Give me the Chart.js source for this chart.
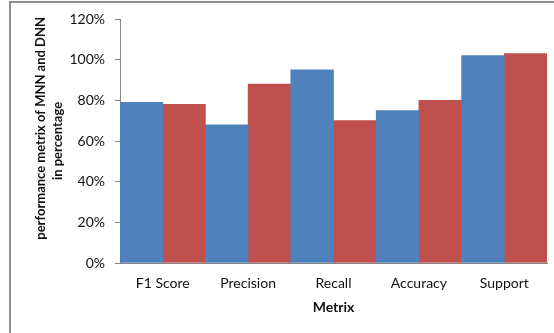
<!DOCTYPE html>
<html>
<head>
<meta charset="utf-8">
<script src="https://cdn.jsdelivr.net/npm/chart.js@4/dist/chart.umd.min.js"></script>
<style>
  html, body { margin: 0; padding: 0; background: #fff; }
  #wrap { position: relative; width: 554px; height: 333px; overflow: hidden; }
  #frame { position: absolute; left: 9px; top: 1px; width: 600px; height: 400px;
           border-left: 2px solid #8e8e8e; border-top: 2px solid #8e8e8e; }
  canvas { position: absolute; left: 0; top: 0; }
</style>
</head>
<body>
<div id="wrap">
  <div id="frame"></div>
  <canvas id="c" width="554" height="333"></canvas>
</div>
<script>
// Metrics compared for the two networks (values in percent)
const categories = ['F1 Score', 'Precision', 'Recall', 'Accuracy', 'Support'];
const mnnValues = [79, 68, 95, 75, 102];
const dnnValues = [78, 88, 70, 80, 103];
const yTicks = [0, 20, 40, 60, 80, 100, 120];

const axisFont = { family: 'Lato, "Open Sans", sans-serif', size: 14 };
const xTitleFont = { family: 'Lato, "Open Sans", sans-serif', size: 14, weight: 'bold', lineHeight: 1.2 };
const yTitleFont = { family: 'Lato, "Open Sans", sans-serif', size: 13, weight: 'bold', lineHeight: 1.3 };

new Chart(document.getElementById('c'), {
  type: 'bar',
  data: {
    labels: categories,
    datasets: [
      { label: 'MNN', data: mnnValues, backgroundColor: '#4F81BD', borderWidth: 0,
        categoryPercentage: 1, barPercentage: 1 },
      { label: 'DNN', data: dnnValues, backgroundColor: '#C0504D', borderWidth: 0,
        categoryPercentage: 1, barPercentage: 1 }
    ]
  },
  options: {
    responsive: false,
    animation: false,
    layout: { padding: { left: 0, right: 7, top: 19, bottom: 0 } },
    plugins: { legend: { display: false }, tooltip: { enabled: false } },
    scales: {
      x: {
        grid: { display: false, drawTicks: false },
        border: { display: true, color: '#868686', width: 1 },
        ticks: { font: axisFont, color: '#111', padding: 12, maxRotation: 0 },
        title: { display: true, text: 'Metrix', font: xTitleFont, color: '#111',
                 padding: { top: 0, bottom: 17 } },
        afterFit(scale) { scale.height = 70; }
      },
      y: {
        min: 0,
        max: 120,
        afterBuildTicks(scale) { scale.ticks = yTicks.map(v => ({ value: v })); },
        grid: { display: true, drawOnChartArea: false, drawTicks: true, tickLength: 5, color: '#868686' },
        border: { display: true, color: '#868686', width: 1 },
        ticks: { font: axisFont, color: '#111', padding: 10, callback: v => v + '%' },
        title: { display: true,
                 text: ['        performance metrix of MNN and DNN', 'in percentage'],
                 font: yTitleFont, color: '#111', padding: { top: 32, bottom: 0 } },
        afterFit(scale) { scale.width = 120; }
      }
    }
  }
});
</script>
</body>
</html>
